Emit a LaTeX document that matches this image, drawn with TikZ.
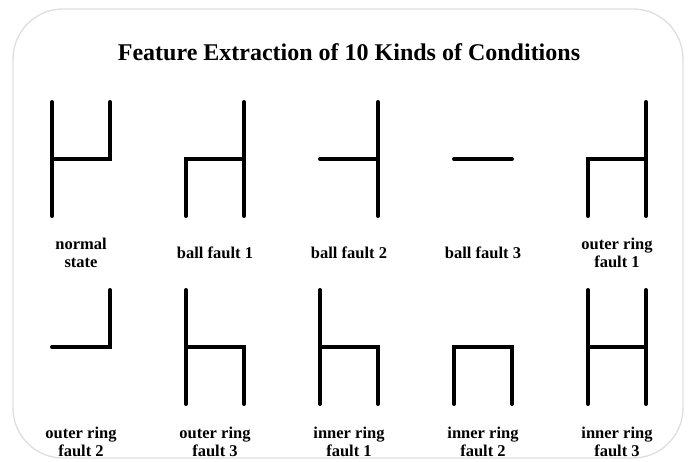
\documentclass[tikz,border=0pt]{standalone}
\usepackage{fontspec}
\setmainfont{Liberation Serif}
\begin{document}
\begin{tikzpicture}[x=1pt, y=-1pt,
        frame/.style={draw=black!13, line width=1.3pt, rounded corners=50pt},
        bar/.style={line width=4pt, line cap=round, line join=miter},
        title/.style={font=\fontsize{24}{29}\selectfont\bfseries, anchor=base},
        tag/.style={font=\fontsize{16.5}{18}\selectfont\bfseries, align=center, anchor=center}]
        \useasboundingbox (0,0) rectangle (691,461);
        % ---- 外框 ----
        \draw[frame] (13,9) rectangle (683,458);
        \node[title] (T) at (349,60) {Feature Extraction of 10 Kinds of Conditions};
        % ---- 每个图形的六个端点 ----
        \foreach \n/\x/\y in {1/52/102, 2/186/102, 3/320/102, 4/454/102, 5/588/102,
                              6/52/290, 7/186/290, 8/320/290, 9/454/290, 10/588/290} {
          \coordinate (tl\n) at (\x,\y);
          \coordinate (ml\n) at (\x,\y+57);
          \coordinate (bl\n) at (\x,\y+114);
          \coordinate (tr\n) at (\x+58,\y);
          \coordinate (mr\n) at (\x+58,\y+57);
          \coordinate (br\n) at (\x+58,\y+114);
        }
        % ---- 第一行 ----
        \draw[bar] (tl1) -- (bl1) (ml1) -- (mr1) -- (tr1);
        \draw[bar] (bl2) -- (ml2) -- (mr2) (tr2) -- (br2);
        \draw[bar] (ml3) -- (mr3) (tr3) -- (br3);
        \draw[bar] (ml4) -- (mr4);
        \draw[bar] (bl5) -- (ml5) -- (mr5) (tr5) -- (br5);
        % ---- 第二行 ----
        \draw[bar] (ml6) -- (mr6) -- (tr6);
        \draw[bar] (tl7) -- (bl7) (ml7) -- (mr7) -- (br7);
        \draw[bar] (tl8) -- (bl8) (ml8) -- (mr8) -- (br8);
        \draw[bar] (bl9) -- (ml9) -- (mr9) -- (br9);
        \draw[bar] (tl10) -- (bl10) (ml10) -- (mr10) (tr10) -- (br10);
        % ---- 标签 ----
        \node[tag] (L1) at (81,253) {normal\\state};
        \node[tag] (L2) at (215,253) {ball fault 1};
        \node[tag] (L3) at (349,253) {ball fault 2};
        \node[tag] (L4) at (483,253) {ball fault 3};
        \node[tag] (L5) at (617,253) {outer ring\\fault 1};
        \node[tag] (L6) at (81,442) {outer ring\\fault 2};
        \node[tag] (L7) at (215,442) {outer ring\\fault 3};
        \node[tag] (L8) at (349,442) {inner ring\\fault 1};
        \node[tag] (L9) at (483,442) {inner ring\\fault 2};
        \node[tag] (L10) at (617,442) {inner ring\\fault 3};
    \end{tikzpicture}
\end{document}
